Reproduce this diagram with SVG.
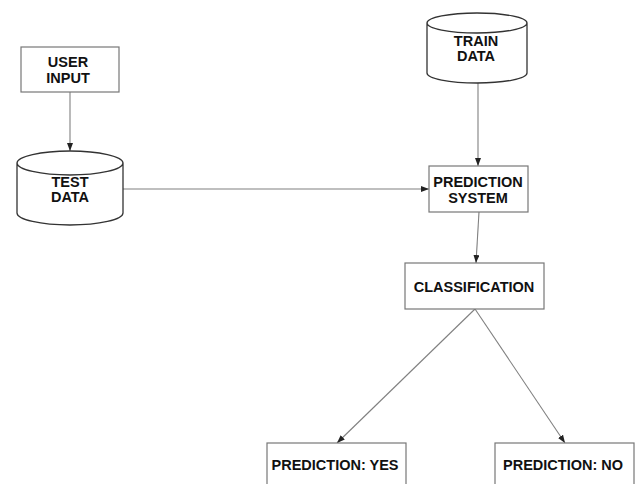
<svg xmlns="http://www.w3.org/2000/svg" width="640" height="484" viewBox="0 0 640 484">
<defs>
<marker id="arr" markerUnits="userSpaceOnUse" markerWidth="9" markerHeight="7" refX="8" refY="3" orient="auto">
<path d="M0,0 L8,3 L0,6 Z" fill="#222"/>
</marker>
<style>
.box{fill:#fff;stroke:#777;stroke-width:1.2}
.cyl{fill:#fff;stroke:#333;stroke-width:1.3}
.lbl{font-family:"Liberation Sans",Arial,sans-serif;font-weight:bold;font-size:14.5px;fill:#111;text-anchor:middle}
.con{fill:none;stroke:#808080;stroke-width:1.1;marker-end:url(#arr)}
</style>
</defs>
<rect width="640" height="484" fill="#fff"/>
<g id="connectors">
<line class="con" x1="70" y1="92" x2="70" y2="151"/>
<line class="con" x1="123" y1="189" x2="429" y2="189"/>
<line class="con" x1="478" y1="83" x2="478" y2="166"/>
<line class="con" x1="479" y1="212" x2="476" y2="263"/>
<line class="con" x1="475" y1="309" x2="337" y2="443"/>
<line class="con" x1="475" y1="309" x2="565" y2="443"/>
</g>
<g id="user-input">
<rect class="box" x="21" y="47" width="98" height="45"/>
<text class="lbl" x="68" y="67">USER</text>
<text class="lbl" x="68" y="83">INPUT</text>
</g>
<g id="test-data">
<path class="cyl" d="M17,163 A53,12 0 0,1 123,163 L123,213 A53,12 0 0,1 17,213 Z M17,163 A53,12 0 0,0 123,163"/>
<text class="lbl" x="70" y="187">TEST</text>
<text class="lbl" x="70" y="202">DATA</text>
</g>
<g id="train-data">
<path class="cyl" d="M427,23 A50,10 0 0,1 527,23 L527,73 A50,10 0 0,1 427,73 Z M427,23 A50,10 0 0,0 527,23"/>
<text class="lbl" x="476" y="46">TRAIN</text>
<text class="lbl" x="476" y="61">DATA</text>
</g>
<g id="prediction-system">
<rect class="box" x="429" y="166" width="99" height="46"/>
<text class="lbl" x="478" y="187">PREDICTION</text>
<text class="lbl" x="478" y="203">SYSTEM</text>
</g>
<g id="classification">
<rect class="box" x="405" y="263" width="139" height="46"/>
<text class="lbl" x="474" y="292">CLASSIFICATION</text>
</g>
<g id="prediction-yes">
<rect class="box" x="267" y="443" width="139" height="50"/>
<text class="lbl" x="335" y="470">PREDICTION: YES</text>
</g>
<g id="prediction-no">
<rect class="box" x="495" y="443" width="139" height="50"/>
<text class="lbl" x="563" y="470">PREDICTION: NO</text>
</g>
</svg>
